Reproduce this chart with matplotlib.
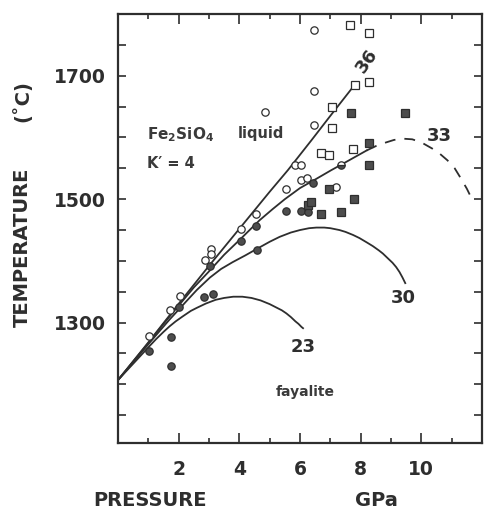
import matplotlib.pyplot as plt
from matplotlib.ticker import MultipleLocator, FixedLocator

# Melting curves of Fe2SiO4 (pressure GPa, temperature C), labelled by K0
curve36_p = [0.0, 1.0, 2.04, 3.0, 4.0, 5.0, 5.6, 6.37, 7.0, 7.83]
curve36_t = [1207, 1268, 1333, 1392, 1452, 1512, 1547, 1595, 1635, 1687]

curve33_p = [0.0, 1.0, 1.5, 2.04, 2.5, 3.0, 3.5, 4.07, 4.67, 5.1, 5.5, 6.0, 6.54, 7.03,
             7.4, 7.8, 8.2]
curve33_t = [1207, 1267, 1298, 1330, 1357, 1383, 1410, 1437, 1466, 1484, 1500, 1518, 1533,
             1547, 1557, 1568, 1579]
curve33_dash_p = [8.2, 8.5, 8.84, 9.1, 9.4, 9.7, 10.0, 10.36, 10.6, 10.86, 11.1, 11.3, 11.5, 11.71]
curve33_dash_t = [1579, 1586, 1592, 1596, 1598, 1597, 1592, 1582, 1574, 1563, 1550, 1534, 1517, 1496]

curve30_p = [0.0, 0.5, 1.0, 1.4, 1.7, 2.0, 2.26, 2.6, 3.03, 3.4, 3.78, 4.2, 4.56, 5.0, 5.33,
             5.7, 6.0, 6.3, 6.54, 6.8, 7.0, 7.3, 7.5, 7.75, 7.96, 8.2, 8.4, 8.6, 8.73, 8.9,
             9.05, 9.17, 9.28, 9.38, 9.47]
curve30_t = [1207, 1236, 1265, 1288, 1305, 1321, 1335, 1353, 1373, 1387, 1398, 1409, 1419,
             1431, 1439, 1446, 1450, 1453, 1454, 1454, 1453, 1450, 1447, 1442, 1437, 1430,
             1424, 1417, 1412, 1404, 1397, 1390, 1382, 1373, 1364]

curve23_p = [0.0, 0.7, 1.0, 1.25, 1.5, 1.7, 1.9, 2.13, 2.4, 2.6, 2.9, 3.22, 3.5, 3.8, 4.1,
             4.4, 4.7, 5.0, 5.2, 5.4, 5.55, 5.7, 5.85, 5.95, 6.05, 6.1]
curve23_t = [1207, 1244, 1260, 1273, 1285, 1294, 1302, 1310, 1319, 1324, 1331, 1337, 1340,
             1342, 1342, 1340, 1336, 1330, 1325, 1320, 1315, 1309, 1302, 1298, 1293, 1291]

# Experimental runs
liquid_p = [1.03, 1.72, 2.04, 2.86, 3.05, 3.05, 4.05, 4.56, 4.84, 5.55, 5.84, 6.04,
            6.04, 6.24, 6.46, 6.46, 6.46, 7.19]
liquid_t = [1278, 1320, 1343, 1402, 1419, 1411, 1451, 1476, 1641, 1516, 1555, 1556,
            1531, 1535, 1774, 1675, 1620, 1520]
partial_p = [7.36]
partial_t = [1555]
crystal_p = [1.03, 1.74, 1.74, 2.02, 2.84, 3.14, 3.03, 4.05, 4.59, 4.56, 5.55, 6.04,
             6.26, 6.43]
crystal_t = [1254, 1277, 1230, 1326, 1342, 1346, 1391, 1432, 1417, 1456, 1481, 1481,
             1480, 1526]
sq_liquid_p = [6.70, 6.97, 7.05, 7.05, 7.66, 7.74, 7.80, 8.27, 8.27]
sq_liquid_t = [1575, 1571, 1615, 1650, 1782, 1581, 1685, 1769, 1690]
sq_crystal_p = [6.28, 6.37, 6.70, 6.95, 7.36, 7.77, 7.69, 8.26, 8.26, 9.47]
sq_crystal_t = [1490, 1496, 1476, 1516, 1480, 1501, 1640, 1591, 1556, 1640]

y_tick_values = [1300, 1500, 1700]
x_tick_values = [2, 4, 6, 8, 10]

INK = "#2e2e2e"
FILL = "#4d4d4d"

fig = plt.figure(figsize=(4.84, 5.09), dpi=100)
ax = fig.add_axes([118 / 484, 66 / 509, 364 / 484, 429 / 509])

line_kw = dict(color=INK, linewidth=1.3, zorder=2, solid_joinstyle="round")
ax.plot(curve36_p, curve36_t, **line_kw)
ax.plot(curve33_p, curve33_t, **line_kw)
ax.plot(curve33_dash_p, curve33_dash_t, linestyle=(0, (6, 5)), **line_kw)
ax.plot(curve30_p, curve30_t, **line_kw)
ax.plot(curve23_p, curve23_t, **line_kw)

mk = dict(linestyle="none", markersize=5.3, markeredgewidth=0.9, markeredgecolor=INK, zorder=3)
ax.plot(liquid_p, liquid_t, marker="o", markerfacecolor="white", **mk)
ax.plot(partial_p, partial_t, marker="o", fillstyle="bottom", markerfacecolor=FILL,
        markerfacecoloralt="white", **mk)
ax.plot(crystal_p, crystal_t, marker="o", markerfacecolor=FILL, **mk)
ax.plot(sq_liquid_p, sq_liquid_t, marker="s", markerfacecolor="white", **mk)
ax.plot(sq_crystal_p, sq_crystal_t, marker="s", markerfacecolor=FILL, **mk)

# curve labels
num_kw = dict(fontsize=13, fontweight="bold", color=INK, ha="center", va="center")
ax.text(6.09, 1261, "23", **num_kw)
ax.text(9.41, 1340, "30", **num_kw)
ax.text(10.59, 1603, "33", **num_kw)
ax.text(8.19, 1724, "36", rotation=55, **num_kw)

txt_kw = dict(fontweight="bold", color="#3a3a3a", va="center")
ax.text(0.95, 1605, r"Fe$_\mathbf{2}$SiO$_\mathbf{4}$", fontsize=11, **txt_kw)
ax.text(3.95, 1607, "liquid", fontsize=10.5, **txt_kw)
ax.text(0.95, 1558, "K\u2032 = 4", fontsize=10.5, **txt_kw)
ax.text(6.18, 1187, "fayalite", fontsize=10, ha="center", fontweight="bold",
        color="#3a3a3a", va="center")

ax.set_xlim(0, 12)
ax.set_ylim(1105, 1800)
ax.xaxis.set_major_locator(FixedLocator(x_tick_values))
ax.xaxis.set_minor_locator(MultipleLocator(1))
ax.yaxis.set_major_locator(FixedLocator(y_tick_values))
ax.yaxis.set_minor_locator(MultipleLocator(50))

ax.tick_params(which="both", direction="in", top=True, right=True, colors=INK, width=1.2)
ax.tick_params(axis="x", which="major", length=7, pad=12.5, labelsize=13.5)
ax.tick_params(axis="x", which="minor", length=3.5)
ax.tick_params(axis="y", which="both", length=6, pad=9, labelsize=13.5)
for lab in ax.get_xticklabels() + ax.get_yticklabels():
    lab.set_fontweight("bold")
for s in ax.spines.values():
    s.set_linewidth(1.6)
    s.set_color(INK)

lbl_kw = dict(fontsize=14, fontweight="bold", color=INK, va="center")
fig.text(93 / 484, 1 - 500 / 509, "PRESSURE", ha="left", **lbl_kw)
fig.text(355 / 484, 1 - 500 / 509, "GPa", ha="left", **lbl_kw)
fig.text(22 / 484, 1 - 247 / 509, "TEMPERATURE", ha="center", rotation=90, **lbl_kw)
fig.text(22 / 484, 1 - 101 / 509, "(\u02daC)", ha="center", rotation=90, **lbl_kw)

fig.savefig("out.png", dpi=100)
